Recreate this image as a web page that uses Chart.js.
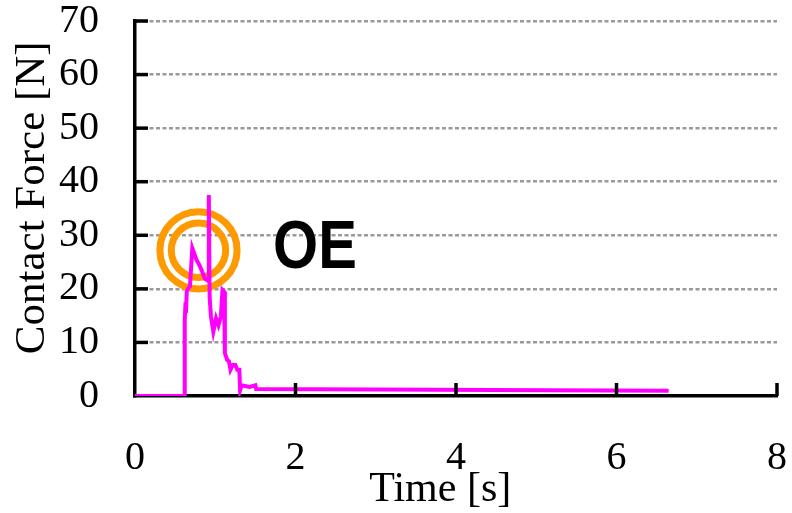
<!DOCTYPE html>
<html>
<head>
<meta charset="utf-8">
<script src="https://cdn.jsdelivr.net/npm/chart.js@4.4.0/dist/chart.umd.min.js"></script>
<style>
  html, body { margin: 0; padding: 0; background: #fff; }
  canvas { display: block; }
</style>
</head>
<body>
<canvas id="force-chart" width="792" height="513"></canvas>
<script>
// contact force trace
const timeS = [0, 0.62, 0.62, 0.63, 0.635, 0.645, 0.66, 0.685, 0.714, 0.74, 0.767, 0.80, 0.83, 0.87, 0.90, 0.92, 0.92, 0.93,
    0.947, 0.976, 1.01, 1.04, 1.07, 1.09, 1.11, 1.12, 1.15, 1.17, 1.19, 1.22, 1.25, 1.275, 1.30, 1.31, 1.33, 1.43, 1.50, 1.51, 6.65];
const forceN = [0, 0, 14.2, 17.5, 15.5, 19.5, 20, 20.5, 27.6, 26.5, 25.4, 24.5, 23.5, 21.9, 21.6, 22, 37.5, 18.5,
    14.8, 12.0, 14.5, 13.2, 14.8, 19.8, 19.5, 8.0, 6.7, 6.5, 4.9, 5.8, 5.8, 4.9, 4.9, 1.1, 2.0, 1.7, 2.0, 1.3, 1.0];

// marker rings and label
const markX = [0.791];
const markY = [27.2];
const noteText = ['OE'];
const noteX = [1.72];
const noteY = [27.5];

const xTicks = [0, 2, 4, 6, 8];
const yTicks = [0, 10, 20, 30, 40, 50, 60, 70];

const toPoints = (xs, ys) => xs.map((x, i) => ({ x: x, y: ys[i] }));

const serif = "'Liberation Serif', 'Times New Roman', serif";
const clear = 'rgba(0,0,0,0)';

// inside tick marks + OE text
const extras = {
    id: 'extras',
    afterDraw(chart) {
        const ctx = chart.ctx;
        const xs = chart.scales.x;
        const ys = chart.scales.y;
        const area = chart.chartArea;
        ctx.save();
        ctx.strokeStyle = '#000';
        ctx.lineWidth = 3.5;
        yTicks.slice(1).forEach(v => {
            const py = ys.getPixelForValue(v);
            ctx.beginPath();
            ctx.moveTo(area.left, py);
            ctx.lineTo(area.left + 13, py);
            ctx.stroke();
        });
        xTicks.slice(1).forEach(v => {
            const px = xs.getPixelForValue(v);
            ctx.beginPath();
            ctx.moveTo(px, area.bottom);
            ctx.lineTo(px, area.bottom - 13);
            ctx.stroke();
        });
        noteText.forEach((t, i) => {
            const px = xs.getPixelForValue(noteX[i]);
            const py = ys.getPixelForValue(noteY[i]);
            ctx.save();
            ctx.translate(px, py);
            ctx.scale(1, 1.18);
            ctx.fillStyle = '#000';
            ctx.font = "bold 58px 'Liberation Sans', Arial, sans-serif";
            ctx.textAlign = 'left';
            ctx.textBaseline = 'middle';
            ctx.fillText(t, 0, 0);
            ctx.restore();
        });
        ctx.restore();
    }
};

new Chart(document.getElementById('force-chart'), {
    type: 'scatter',
    data: {
        datasets: [{
            data: toPoints(timeS, forceN),
            showLine: true,
            borderColor: '#ff00ff',
            borderWidth: 4,
            pointRadius: 0,
            tension: 0,
            order: 0
        }, {
            data: toPoints(markX, markY),
            pointRadius: 38.6,
            pointBorderWidth: 7,
            pointBorderColor: '#ff9900',
            pointBackgroundColor: clear,
            order: 1
        }, {
            data: toPoints(markX, markY),
            pointRadius: 27.2,
            pointBorderWidth: 7,
            pointBorderColor: '#ff9900',
            pointBackgroundColor: clear,
            order: 1
        }]
    },
    options: {
        responsive: false,
        animation: false,
        events: [],
        layout: { autoPadding: false, padding: { top: 0, right: 15, bottom: 0, left: 0 } },
        plugins: {
            legend: { display: false },
            tooltip: { enabled: false }
        },
        scales: {
            x: {
                type: 'linear',
                min: 0,
                max: 8,
                afterFit: s => { s.height = 117; },
                afterBuildTicks: s => { s.ticks = xTicks.map(v => ({ value: v })); },
                grid: { color: clear, drawOnChartArea: false, drawTicks: true, tickLength: 39, tickColor: clear },
                border: { display: true, color: '#000', width: 3.5 },
                ticks: {
                    color: '#000',
                    padding: 3,
                    font: { family: serif, size: 40, lineHeight: 1 }
                },
                title: {
                    display: true,
                    // trailing spaces nudge the centred title left like the original
                    text: 'Time [s]   ',
                    color: '#000',
                    padding: { top: 0, bottom: 2 },
                    font: { family: serif, size: 42, lineHeight: 1 }
                }
            },
            y: {
                min: 0,
                max: 70,
                afterFit: s => { s.width = 135; },
                afterBuildTicks: s => { s.ticks = yTicks.map(v => ({ value: v })); },
                grid: {
                    color: v => v.tick.value === 0 ? clear : '#9a9a9a',
                    lineWidth: 2.5,
                    drawTicks: true,
                    tickLength: 33,
                    tickColor: clear
                },
                border: { display: true, color: '#000', width: 3.5, dash: [4, 2.5] },
                ticks: {
                    color: '#000',
                    padding: 3,
                    font: { family: serif, size: 40, lineHeight: 0.9 }
                },
                title: {
                    display: true,
                    text: '  Contact Force [N]',
                    color: '#000',
                    padding: { top: 11, bottom: 0 },
                    font: { family: serif, size: 43, lineHeight: 1 }
                }
            }
        }
    },
    plugins: [extras]
});
</script>
</body>
</html>
